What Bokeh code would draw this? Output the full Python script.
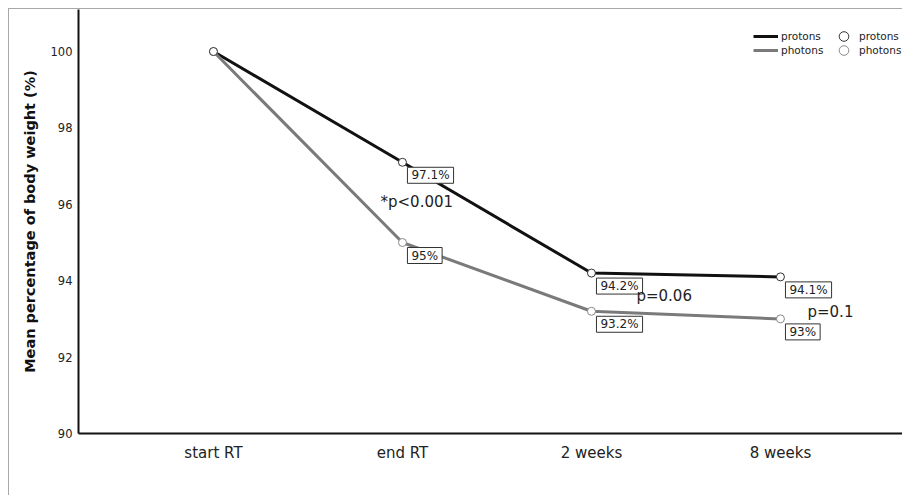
from bokeh.plotting import figure
from bokeh.models import (ColumnDataSource, Range1d, FixedTicker, Legend, LegendItem)
from bokeh.core.properties import value
from bokeh.embed import file_html
from bokeh.resources import INLINE

# ---- data ----
categories = ["start RT", "end RT", "2 weeks", "8 weeks"]
protons = [100.0, 97.1, 94.2, 94.1]
photons = [100.0, 95.0, 93.2, 93.0]
y_ticks = [90, 92, 94, 96, 98, 100]
p_labels = ["*p<0.001", "p=0.06", "p=0.1"]
p_x = [0.884, 2.238, 3.143]      # in category-index units (left edge of text)
p_y = [96.05, 93.61, 93.17]

FONT = "DejaVu Sans"
xs = list(range(len(categories)))

p = figure(width=894, height=487, output_backend="svg", toolbar_location=None,
           x_range=Range1d(-0.714, 3.651), y_range=Range1d(90, 101.1),
           min_border_left=69, min_border_right=0, min_border_top=0,
           min_border_bottom=63)
p.styles = {"margin-left": "8px", "margin-top": "8px",
            "border-left": "1px solid #a8a8a8", "border-top": "1px solid #a8a8a8"}
p.outline_line_color = None
p.xgrid.visible = False
p.ygrid.visible = False
p.background_fill_color = "white"
p.border_fill_color = "white"

# axes
p.xaxis.ticker = FixedTicker(ticks=xs)
p.xaxis.major_label_overrides = {i: c for i, c in enumerate(categories)}
p.yaxis.ticker = FixedTicker(ticks=y_ticks)
for ax in (p.xaxis, p.yaxis):
    ax.axis_line_color = "#111111"
    ax.axis_line_width = 2
    ax.major_tick_line_color = None
    ax.minor_tick_line_color = None
    ax.major_tick_out = 0
    ax.major_tick_in = 0
    ax.major_label_text_font = FONT
    ax.major_label_text_color = "#222222"
p.xaxis.major_label_text_font_size = "15px"
p.xaxis.major_label_standoff = 10
p.yaxis.major_label_text_font_size = "11.5px"
p.yaxis.major_label_standoff = 6
p.yaxis.axis_label = "Mean percentage of body weight (%)"
p.yaxis.axis_label_text_font = FONT
p.yaxis.axis_label_text_font_style = "bold"
p.yaxis.axis_label_text_font_size = "14.5px"
p.yaxis.axis_label_text_color = "#111111"
p.yaxis.axis_label_standoff = 10

# series
src_pr = ColumnDataSource(dict(x=xs, y=protons))
src_ph = ColumnDataSource(dict(x=xs, y=photons))
l_pr = p.line("x", "y", source=src_pr, line_color="#111111", line_width=3)
l_ph = p.line("x", "y", source=src_ph, line_color="#7a7a7a", line_width=3)
m_ph = p.scatter("x", "y", source=src_ph, marker="circle", size=8,
                 fill_color="white", line_color="#8a8a8a", line_width=1)
m_pr = p.scatter("x", "y", source=src_pr, marker="circle", size=8,
                 fill_color="white", line_color="#333333", line_width=1)

# boxed value labels
lab_x, lab_y, lab_t = [], [], []
for series in (protons, photons):
    for i, v in enumerate(series):
        if i == 0:
            continue
        lab_x.append(i)
        lab_y.append(v)
        lab_t.append("%g%%" % v)
lab_src = ColumnDataSource(dict(x=lab_x, y=lab_y, t=lab_t))
p.text("x", "y", text="t", source=lab_src, x_offset=5, y_offset=5,
       anchor="top_left", padding={"left": 4, "right": 4, "top": 1, "bottom": 1},
       text_font=value(FONT), text_font_size="12px", text_color="#222222",
       background_fill_color="white", border_line_color="#333333",
       border_line_width=1)

# p-values
pv_src = ColumnDataSource(dict(x=p_x, y=p_y, t=p_labels))
p.text("x", "y", text="t", source=pv_src, text_align="left",
       text_baseline="middle", text_font=value(FONT), text_font_size="15px",
       text_color="#222222")

# legend: one legend per row so the circle glyphs can be larger
def make_legend(items, vy):
    return Legend(items=items, location=(675, vy), orientation="horizontal",
                  padding=0, margin=0, spacing=2, glyph_width=25,
                  glyph_height=24, label_height=24, label_width=48,
                  label_standoff=3, border_line_color=None,
                  background_fill_alpha=0, label_text_font=FONT,
                  label_text_font_size="10.5px", label_text_color="#222222")

p.add_layout(make_legend([LegendItem(label="protons", renderers=[l_pr]),
                          LegendItem(label="protons", renderers=[m_pr])], 385))
p.add_layout(make_legend([LegendItem(label="photons", renderers=[l_ph]),
                          LegendItem(label="photons", renderers=[m_ph])], 371))

open("out.html", "w").write(file_html(p, INLINE))
